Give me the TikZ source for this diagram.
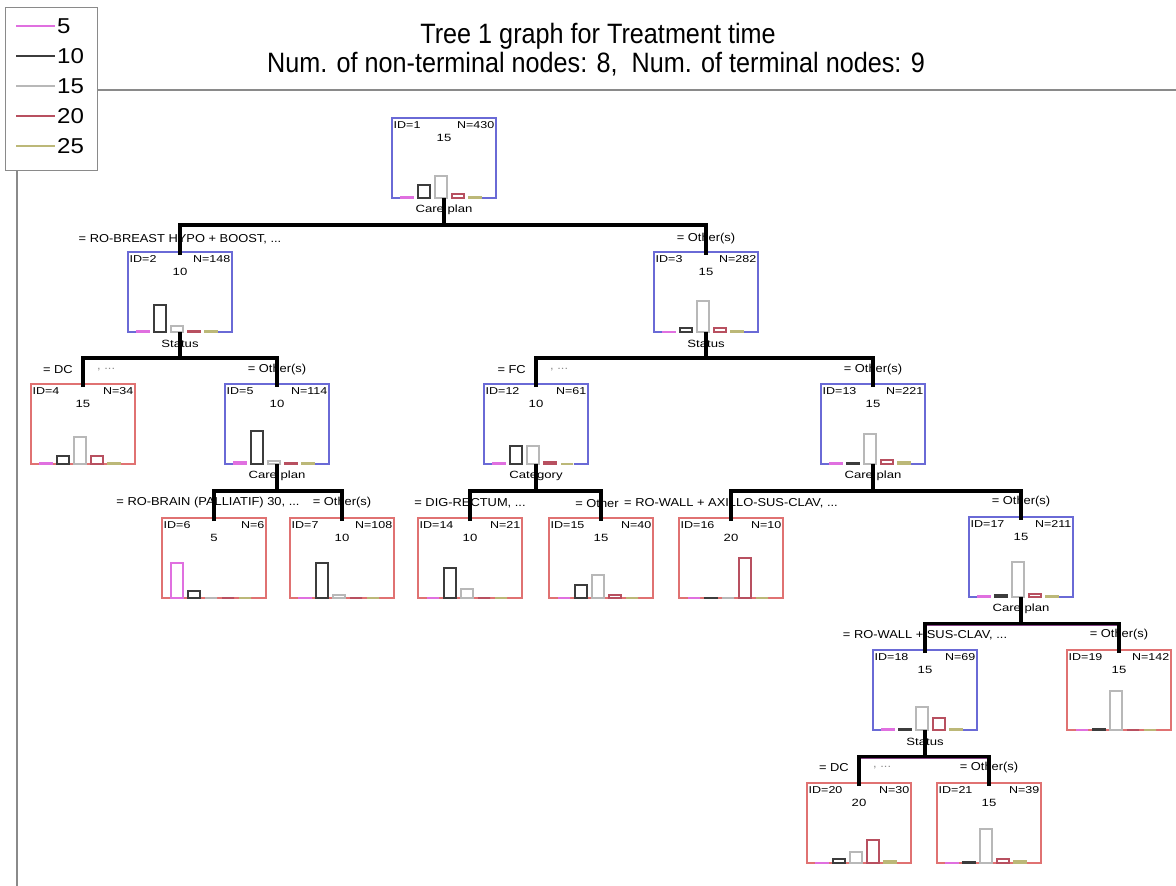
\documentclass[tikz,border=0pt]{standalone}
\usepackage{fontspec}
\setmainfont{Liberation Sans}[FakeStretch=1.25]
\newfontfamily\titlefont{Liberation Sans}[FakeStretch=0.9]
\newfontfamily\labelfont{Liberation Sans}[FakeStretch=1.12]
\usetikzlibrary{calc}

\definecolor{ntblue}{HTML}{6A6AD6}
\definecolor{tmred}{HTML}{E07272}
\definecolor{cA}{HTML}{E070E0}
\definecolor{cB}{HTML}{3C3C3C}
\definecolor{cC}{HTML}{B8B8B8}
\definecolor{cD}{HTML}{B85060}
\definecolor{cE}{HTML}{BCB878}
\definecolor{rulegray}{HTML}{8A8A8A}

\tikzset{
  box/.style={minimum width=104pt, minimum height=80pt, inner sep=0pt, outer sep=0pt, anchor=north west},
  hdr/.style={font=\fontsize{10}{10}\selectfont, inner sep=0pt},
  cls/.style={font=\fontsize{10.5}{11}\selectfont, inner sep=0pt},
  blab/.style={font=\labelfont\fontsize{11.5}{12}\selectfont, inner sep=0pt},
  vlab/.style={font=\fontsize{10.5}{11}\selectfont, inner sep=0pt},
  faint/.style={blab, text=black!45},
  conn/.style={line width=3.2pt, black, line join=miter},
  under/.style={line width=1pt, color=cA!60!black},
  bar/.style={line width=1.2pt},
  rule/.style={line width=1.6pt, rulegray},
}

% frame of a split (non-terminal) node: the bottom edge is left open in the middle
\newcommand\drawnt[1]{\draw[ntblue, line width=1.4pt]
  ([xshift=9pt]#1.south west) -- (#1.south west) -- (#1.north west) --
  (#1.north east) -- (#1.south east) -- ([xshift=-14pt]#1.south east);}
% frame of a terminal node
\newcommand\drawtm[1]{\draw[tmred, line width=1.4pt] (#1.south west) rectangle (#1.north east);}

% #1 name, #2 nt/tm, #3 left, #4 top, #5 id, #6 n, #7 predicted class
\newcommand\treebox[7]{%
  \node[box] (#1) at (#3,#4) {};
  \csname draw#2\endcsname{#1}
  \node[hdr, anchor=west] (#1-id) at ([xshift=1.5pt,yshift=-7pt]#1.north west) {ID=#5};
  \node[hdr, anchor=east] (#1-n) at ([xshift=-1.5pt,yshift=-7pt]#1.north east) {N=#6};
  \node[cls] (#1-c) at ([yshift=-20pt]#1.north) {#7};
}

% class histogram inside a node: bar heights for 5, 10, 15, 20, 25
\newcommand\histbars[6]{%
  \draw[bar,cA] ([xshift=9pt]#1.south west) rectangle ++(12pt,#2pt);
  \draw[bar,cB] ([xshift=26pt]#1.south west) rectangle ++(12pt,#3pt);
  \draw[bar,cC] ([xshift=43pt]#1.south west) rectangle ++(12pt,#4pt);
  \draw[bar,cD] ([xshift=60pt]#1.south west) rectangle ++(12pt,#5pt);
  \draw[bar,cE] ([xshift=77pt]#1.south west) rectangle ++(12pt,#6pt);
}

% splitting variable below a parent and the fork point
\newcommand\splitvar[3]{%
  \node[vlab] (#1-v) at ([yshift=-12pt]#1.south) {#2};
  \coordinate (#1-s) at ($(#1.south)!0.5!(#1.south |- #3.north)$);
}

% fork from a parent to its two children
\newcommand\joinkids[3]{%
  \coordinate (#1-l) at (#2.north |- #1-s);
  \coordinate (#1-r) at (#3.north |- #1-s);
  \draw[under] ([yshift=-1.8pt]#1-l) -- ([yshift=-1.8pt]#1-r);
  \draw[conn] (#1.south) -- (#1-s);
  \draw[conn] ([yshift=-3pt]#2.north) -- (#1-l) -- (#1-r) -- ([yshift=-3pt]#3.north);
}

\begin{document}
\begin{tikzpicture}[x=1pt, y=-1pt]
\useasboundingbox (0,0) rectangle (1176,886);

% legend and frame rules
\node[draw=rulegray, line width=1pt, minimum width=92pt, minimum height=163pt,
      anchor=north west, inner sep=0pt] (legend) at (5,7) {};
\foreach \yy/\c/\t [count=\k] in {26/cA/5, 56/cB/10, 86/cC/15, 116/cD/20, 146/cE/25} {
  \draw[\c, line width=1.4pt] (16,\yy) -- (55,\yy);
  \node[anchor=west, inner sep=0pt, font=\labelfont\fontsize{21.5}{23}\selectfont] (leg\k) at (57,\yy) {\t};
}
\coordinate (ruleR) at (1176,90);
\coordinate (ruleB) at (17,886);
\draw[rule] (legend.east |- ruleR) -- (ruleR);
\draw[rule] (legend.south -| ruleB) -- (ruleB);

% title
\node[anchor=base, inner sep=0pt, font=\titlefont\fontsize{28}{30}\selectfont] (title1) at (598,43) {Tree 1 graph for Treatment time};
\node[anchor=base, inner sep=0pt, font=\titlefont\fontsize{28}{30}\selectfont] (title2) at (596,72) {Num. of non-terminal nodes: 8,\ \ Num. of terminal nodes: 9};

% nodes
\treebox{n1}{nt}{392}{118}{1}{430}{15}    \histbars{n1}{1}{13}{22}{4}{1}
\treebox{n2}{nt}{128}{252}{2}{148}{10}    \histbars{n2}{1}{27}{6}{1}{1}
\treebox{n3}{nt}{654}{252}{3}{282}{15}    \histbars{n3}{0.5}{4}{31}{4}{1}
\treebox{n4}{tm}{31}{384}{4}{34}{15}      \histbars{n4}{1}{8}{27}{8}{1}
\treebox{n5}{nt}{225}{384}{5}{114}{10}    \histbars{n5}{2}{33}{3}{1}{1}
\treebox{n12}{nt}{484}{384}{12}{61}{10}   \histbars{n12}{1}{18}{18}{2}{0}
\treebox{n13}{nt}{821}{384}{13}{221}{15}  \histbars{n13}{1}{1}{30}{4}{2}
\treebox{n6}{tm}{162}{518}{6}{6}{5}       \histbars{n6}{35}{7}{0}{0}{0}
\treebox{n7}{tm}{290}{518}{7}{108}{10}    \histbars{n7}{0.5}{35}{3}{0}{0}
\treebox{n14}{tm}{418}{518}{14}{21}{10}   \histbars{n14}{0}{30}{9}{0}{0}
\treebox{n15}{tm}{549}{518}{15}{40}{15}   \histbars{n15}{0}{13}{23}{3}{0}
\treebox{n16}{tm}{679}{518}{16}{10}{20}   \histbars{n16}{0}{0.5}{0}{40}{0}
\treebox{n17}{nt}{969}{517}{17}{211}{15}  \histbars{n17}{1}{2}{35}{3}{1}
\treebox{n18}{nt}{873}{650}{18}{69}{15}   \histbars{n18}{1}{1}{23}{12}{1}
\treebox{n19}{tm}{1067}{650}{19}{142}{15} \histbars{n19}{0}{1}{39}{0}{0}
\treebox{n20}{tm}{807}{783}{20}{30}{20}   \histbars{n20}{0.5}{4}{11}{23}{2}
\treebox{n21}{tm}{937}{783}{21}{39}{15}   \histbars{n21}{0.5}{1}{34}{4}{2}

% splitting variables
\splitvar{n1}{Care plan}{n2}
\splitvar{n2}{Status}{n4}
\splitvar{n3}{Status}{n12}
\splitvar{n5}{Care plan}{n6}
\splitvar{n12}{Category}{n14}
\splitvar{n13}{Care plan}{n16}
\splitvar{n17}{Care plan}{n18}
\splitvar{n18}{Status}{n20}

% branch conditions
\node[blab] (b2) at ([yshift=13pt]n2.north) {= RO-BREAST HYPO + BOOST, ...};
\node[blab] (b3) at ([yshift=13pt]n3.north) {= Other(s)};
\node[blab, anchor=east] (b4) at ([xshift=-10pt,yshift=14pt]n4.north) {= DC};
\node[faint, anchor=west] (b4x) at ([xshift=14pt,yshift=14pt]n4.north) {, ...};
\node[blab] (b5) at ([yshift=14pt]n5.north) {= Other(s)};
\node[blab] (b6) at ([xshift=-6pt,yshift=15pt]n6.north) {= RO-BRAIN (PALLIATIF) 30, ...};
\node[blab] (b7) at ([yshift=15pt]n7.north) {= Other(s)};
\node[blab, anchor=east] (b12) at ([xshift=-10pt,yshift=14pt]n12.north) {= FC};
\node[faint, anchor=west] (b12x) at ([xshift=14pt,yshift=14pt]n12.north) {, ...};
\node[blab] (b13) at ([yshift=14pt]n13.north) {= Other(s)};
\node[blab] (b14) at ([yshift=15pt]n14.north) {= DIG-RECTUM, ...};
\node[blab] (b15) at ([xshift=-4pt,yshift=15pt]n15.north) {= Other};
\node[blab] (b16) at ([yshift=15pt]n16.north) {= RO-WALL + AXILLO-SUS-CLAV, ...};
\node[blab] (b17) at ([yshift=15pt]n17.north) {= Other(s)};
\node[blab] (b18) at ([yshift=15pt]n18.north) {= RO-WALL + SUS-CLAV, ...};
\node[blab] (b19) at ([yshift=15pt]n19.north) {= Other(s)};
\node[blab, anchor=east] (b20) at ([xshift=-10pt,yshift=15pt]n20.north) {= DC};
\node[faint, anchor=west] (b20x) at ([xshift=14pt,yshift=15pt]n20.north) {, ...};
\node[blab] (b21) at ([yshift=15pt]n21.north) {= Other(s)};

% connectors
\joinkids{n1}{n2}{n3}
\joinkids{n2}{n4}{n5}
\joinkids{n3}{n12}{n13}
\joinkids{n5}{n6}{n7}
\joinkids{n12}{n14}{n15}
\joinkids{n13}{n16}{n17}
\joinkids{n17}{n18}{n19}
\joinkids{n18}{n20}{n21}
\end{tikzpicture}
\end{document}
